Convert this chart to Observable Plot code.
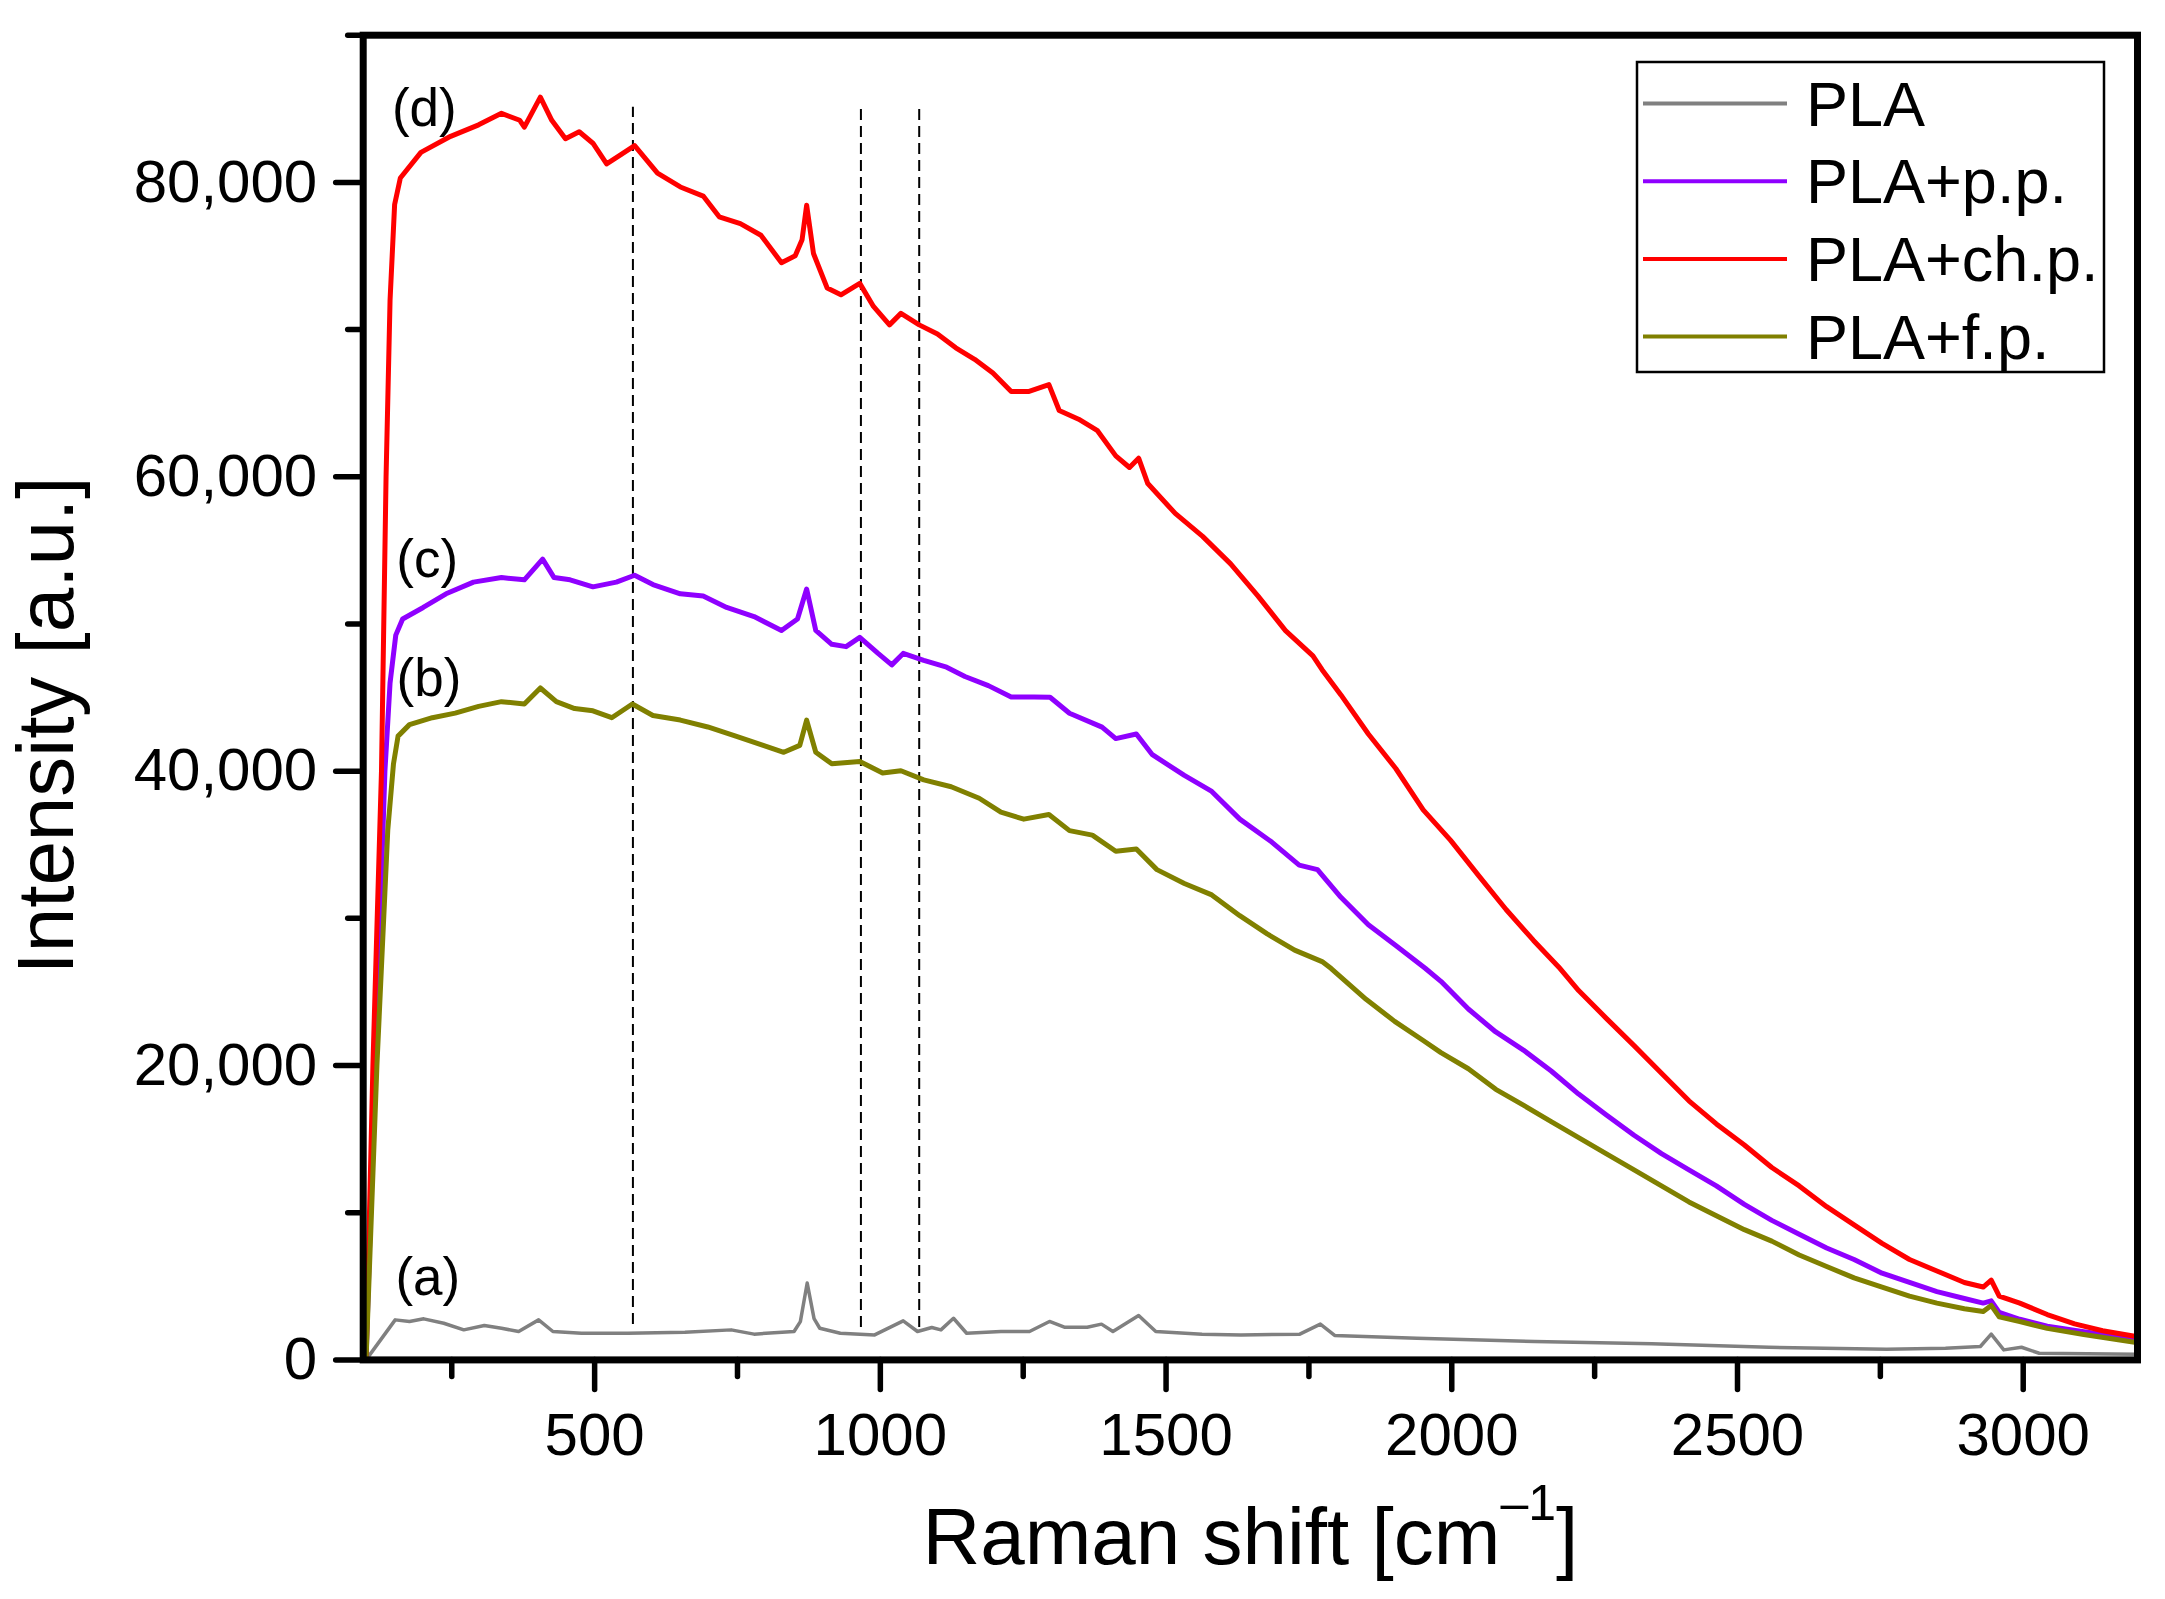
<!DOCTYPE html>
<html>
<head>
<meta charset="utf-8">
<script src="https://cdn.jsdelivr.net/npm/d3@7"></script>
<script src="https://cdn.jsdelivr.net/npm/@observablehq/plot@0.6"></script>
<style>
  html, body { margin: 0; padding: 0; background: #fff; overflow: hidden; }
  #chart svg { display: block; }
</style>
</head>
<body>
<div id="chart"></div>
<script>
// ---- series ----
const seriesNames = ["PLA", "PLA+p.p.", "PLA+ch.p.", "PLA+f.p."];
const seriesColors = ["#808080", "#8f00ff", "#ff0000", "#808000"];
const seriesWidths = [3.5, 5, 5, 5];

// (a) PLA
const plaX = [100,151,176,201,236,271,307,337,367,402,427,477,558,658,739,779,849,860,872,884,894,930,990,1040,1065,1090,1106,1128,1151,1211,1261,1296,1322,1362,1387,1407,1452,1482,1563,1631,1734,1770,1795,1939,2145,2350,2555,2761,2864,2925,2944,2966,2997,3028,3197];
const plaY = [0,2720,2610,2790,2490,2040,2340,2150,1930,2720,1930,1810,1810,1880,2040,1750,1930,2600,5220,2800,2150,1810,1700,2650,1930,2200,2040,2830,1810,1930,1930,2610,2220,2220,2430,1930,3020,1930,1750,1700,1750,2430,1660,1470,1250,1090,860,730,790,910,1750,680,860,450,390];

// (c) PLA+p.p.
const ppX = [100,116,133,142,152,164,200,240,288,337,377,409,429,457,497,538,570,602,650,690,731,779,827,855,871,887,915,940,964,996,1020,1040,1076,1116,1148,1189,1229,1269,1297,1331,1388,1412,1448,1476,1532,1580,1629,1685,1733,1765,1806,1854,1902,1954,1981,2029,2077,2126,2174,2222,2270,2319,2367,2415,2463,2512,2560,2608,2656,2704,2753,2801,2849,2897,2930,2944,2958,2994,3042,3106,3195];
const ppY = [0,20000,40000,46000,49240,50340,51120,52050,52840,53150,53000,54400,53150,53000,52520,52840,53310,52680,52050,51900,51120,50500,49560,50340,52370,49560,48620,48460,49090,48000,47220,48000,47530,47060,46430,45810,45030,45030,45020,43930,42990,42210,42520,41120,39710,38620,36740,35180,33620,33310,31430,29560,28150,26590,25720,23840,22280,21030,19630,18060,16660,15260,14010,12910,11820,10570,9480,8540,7600,6820,5890,5260,4640,4170,3860,4010,3230,2760,2290,1920,1420];

// (d) PLA+ch.p.
const chpX = [100,112,127,135,142,150,160,196,248,297,337,369,377,405,425,449,473,497,521,546,570,590,610,650,690,718,755,791,827,851,863,871,883,907,931,964,988,1016,1036,1068,1100,1132,1165,1197,1229,1259,1295,1313,1347,1380,1412,1436,1452,1468,1516,1564,1613,1661,1709,1757,1773,1806,1854,1902,1950,1998,2047,2095,2143,2187,2222,2270,2319,2367,2415,2463,2512,2560,2608,2656,2704,2753,2801,2849,2897,2930,2944,2958,2994,3042,3090,3139,3195];
const chpY = [0,20000,40000,60000,72000,78500,80300,82040,83130,83910,84690,84220,83750,85790,84220,82970,83440,82660,81260,81880,82500,81570,80630,79690,79070,77660,77200,76410,74540,75010,76100,78450,75170,72820,72360,73140,71570,70320,71100,70320,69700,68760,67980,67050,65800,65790,66260,64500,63910,63130,61420,60630,61260,59540,57510,55950,54080,51890,49550,47830,46890,45180,42520,40180,37370,35300,32900,30600,28500,26700,25090,23220,21350,19470,17600,16030,14600,13070,11820,10410,9170,7920,6820,6040,5260,4950,5420,4330,3860,3080,2450,1980,1610];

// (b) PLA+f.p.
const fpX = [100,119,138,148,156,176,216,256,297,337,377,405,433,465,497,530,566,602,650,698,747,795,831,859,871,887,915,964,1004,1036,1076,1124,1173,1211,1251,1295,1331,1371,1412,1448,1484,1532,1580,1629,1677,1725,1773,1789,1850,1900,1950,1981,2029,2077,2126,2174,2222,2270,2319,2367,2415,2463,2512,2560,2608,2656,2704,2753,2801,2849,2897,2930,2944,2958,2994,3042,3106,3195];
const fpY = [0,20000,36000,40500,42380,43160,43630,43940,44400,44720,44560,45650,44720,44250,44100,43630,44560,43780,43470,43000,42380,41750,41280,41750,43470,41280,40500,40660,39880,40030,39410,38940,38160,37210,36740,37060,35960,35650,34560,34710,33310,32370,31590,30180,28940,27840,27060,26590,24500,23000,21700,20880,19780,18380,17290,16190,15100,14010,12910,11820,10730,9790,8850,8070,7130,6350,5570,4950,4330,3860,3480,3290,3700,2920,2610,2140,1730,1200];

// curve labels
const curveLabels = ["(a)", "(b)", "(c)", "(d)"];
const labelX = [208, 210, 207, 202];
const labelY = [5570, 46290, 54310, 84990];

// dashed reference lines
const dashedX = [567, 966, 1068];
const dashedTop = [85100, 85000, 85000];
const dashedBottom = [2400, 2200, 2200];

// ticks
const xMajor = [500, 1000, 1500, 2000, 2500, 3000];
const xMinor = [250, 750, 1250, 1750, 2250, 2750];
const yMajor = [0, 20000, 40000, 60000, 80000];
const yMinor = [10000, 30000, 50000, 70000, 90000];

const xTitle = "Raman shift [cm\u207B\u00B9]";
const yTitle = "Intensity [a.u.]";

// ---- build tables ----
const xs = [plaX, ppX, chpX, fpX];
const ys = [plaY, ppY, chpY, fpY];
const labels = curveLabels.map((t, i) => ({t, x: labelX[i], y: labelY[i]}));
const dashed = dashedX.map((x, i) => ({x, y1: dashedBottom[i], y2: dashedTop[i]}));
const lineMarks = seriesNames.map((name, i) =>
  Plot.line(xs[i].map((x, j) => ({series: name, x, y: ys[i][j]})),
    {x: "x", y: "y", stroke: seriesColors[i], strokeWidth: seriesWidths[i], strokeLinejoin: "round"}));

const W = 2165, H = 1599;
const mL = 362.7, mR = 28, mT = 34.7, mB = 239.6;
const font = "'Liberation Sans', Arial, Helvetica, sans-serif";

const chart = Plot.plot({
  width: W,
  height: H,
  marginLeft: mL,
  marginRight: mR,
  marginTop: mT,
  marginBottom: mB,
  style: {fontFamily: font, background: "white", color: "black"},
  x: {domain: [95, 3200]},
  y: {domain: [0, 90000]},
  marks: [
    Plot.ruleX(dashed, {x: "x", y1: "y1", y2: "y2", stroke: "black", strokeWidth: 2, strokeDasharray: "11,6"}),
    ...lineMarks,
    Plot.text(labels, {x: "x", y: "y", text: "t", fontSize: 53, fill: "black", textAnchor: "middle", lineAnchor: "middle"}),
    Plot.frame({stroke: "black", strokeWidth: 7}),
    Plot.axisX({ticks: xMinor, tickSize: 17, strokeWidth: 5.5, strokeLinecap: "round", tickFormat: () => "", label: null}),
    Plot.axisX({ticks: xMajor, tickSize: 30, tickPadding: 22, strokeWidth: 5.5, strokeLinecap: "round", fontSize: 60, tickFormat: d => String(d), label: null}),
    Plot.axisY({ticks: yMinor, tickSize: 15, strokeWidth: 5.5, strokeLinecap: "round", tickFormat: () => "", label: null}),
    Plot.axisY({ticks: yMajor, tickSize: 27, tickPadding: 19, strokeWidth: 5.5, strokeLinecap: "round", fontSize: 60, tickFormat: d3.format(","), label: null}),
    Plot.text([xTitle], {frameAnchor: "bottom", dy: 203.6, fontSize: 80, textAnchor: "middle", lineAnchor: "bottom", fill: "black"}),
    Plot.text([yTitle], {frameAnchor: "left", dx: 72 - mL, dy: 28, rotate: -90, fontSize: 80, textAnchor: "middle", lineAnchor: "bottom", fill: "black"})
  ]
});

document.getElementById("chart").appendChild(chart);

const svg = d3.select(chart);

// superscript in x title
svg.selectAll("text").filter(function () { return this.textContent === xTitle; }).each(function () {
  const t = d3.select(this);
  t.text(null);
  t.append("tspan").text("Raman shift [cm");
  t.append("tspan").attr("font-size", 50).attr("dy", -44).text("\u20131");
  t.append("tspan").attr("font-size", 80).attr("dy", 44).text("]");
});

// legend
const lg = svg.append("g").attr("font-family", font).attr("text-anchor", "start");
lg.append("rect").attr("x", 1637).attr("y", 62).attr("width", 467).attr("height", 310)
  .attr("fill", "white").attr("stroke", "black").attr("stroke-width", 2.5);
seriesNames.forEach((name, i) => {
  const yy = 103.5 + i * 77.7;
  lg.append("line").attr("x1", 1643).attr("x2", 1787).attr("y1", yy).attr("y2", yy)
    .attr("stroke", seriesColors[i]).attr("stroke-width", 4);
  lg.append("text").attr("x", 1806).attr("y", yy + 22).attr("font-size", 63)
    .attr("text-anchor", "start").attr("fill", "black").text(name);
});
</script>
</body>
</html>
